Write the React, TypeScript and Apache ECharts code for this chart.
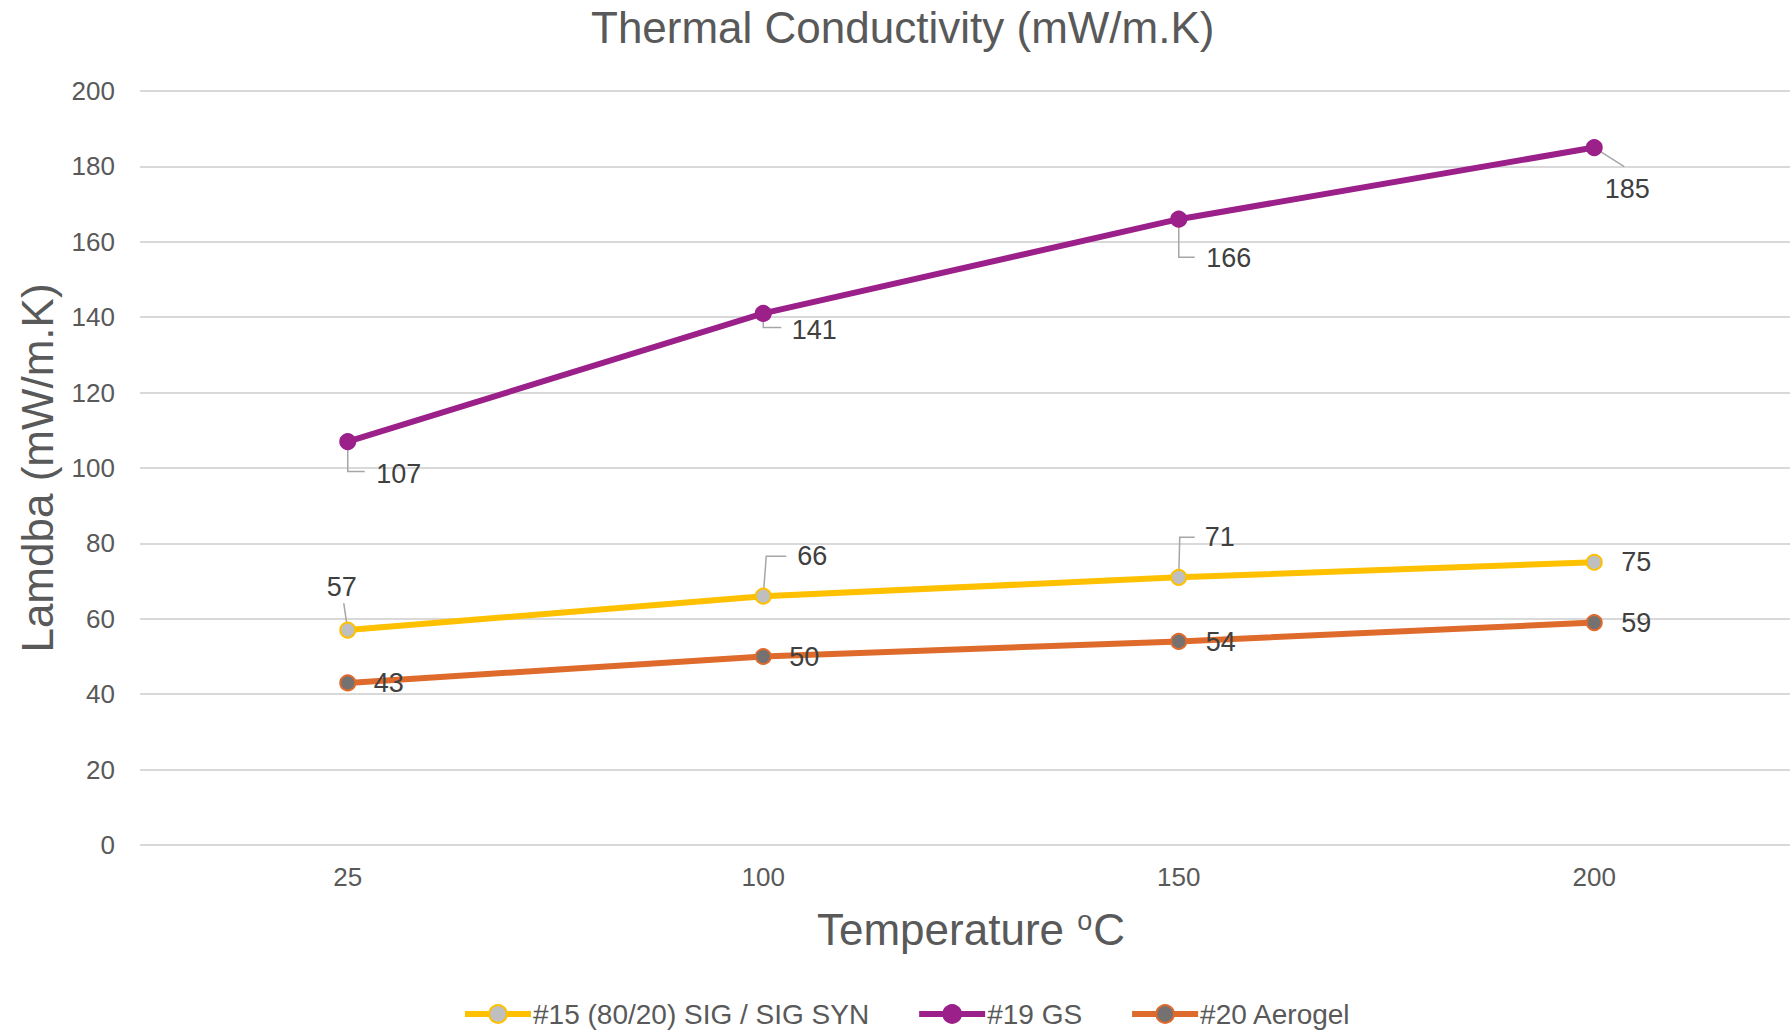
import React, { useEffect, useRef } from "react";
import * as echarts from "echarts";

// ---- data ----
const categories = ["25", "100", "150", "200"];
const sigValues = [57, 66, 71, 75];
const gsValues = [107, 141, 166, 185];
const aerogelValues = [43, 50, 54, 59];
const seriesNames = ["#15 (80/20) SIG / SIG SYN", "#19 GS", "#20 Aerogel"];
const yMin = 0;
const yMax = 200;
const yInterval = 20;

// ---- label placement (styling, px offsets from the point) ----
const sigLabelOffsets = [[-6, -43], [49, -40], [41, -40], [42, 0]];
const gsLabelOffsets = [[51, 32], [51, 17], [50, 39], [33, 41]];
const aeroLabelOffsets = [[41, 0], [41, 0], [42, 1], [42, 0]];

const sigLeaders: (number[][] | null)[] = [
  [[0, 0], [-4, -27]],
  [[0, 0], [3, -40], [23, -40]],
  [[0, 0], [1, -40], [16, -40]],
  null,
];
const gsLeaders: (number[][] | null)[] = [
  [[0, 0], [0, 30], [17, 30]],
  [[0, 0], [0, 14], [18, 14]],
  [[0, 0], [0, 38], [16, 38]],
  [[0, 0], [30, 19]],
];

const FONT = "Liberation Sans, Arial, sans-serif";
const TEXT = "#595959";
const LABEL = "#404040";
const YELLOW = "#FFC000";
const PURPLE = "#9B208A";
const ORANGE = "#DE6A2C";

function lineSeries(name: string, values: number[], offsets: number[][], color: string, markerFill: string) {
  return {
    name,
    type: "line",
    z: 3,
    data: values.map((v, i) => ({
      value: v,
      label: { offset: offsets[i] },
    })),
    symbol: "circle",
    symbolSize: 15,
    lineStyle: { color, width: 6 },
    itemStyle: { color: markerFill, borderColor: color, borderWidth: 2 },
    label: {
      show: true,
      position: "inside",
      fontSize: 27,
      color: LABEL,
      fontFamily: FONT,
    },
  };
}

function leaderSeries(values: number[], leaders: (number[][] | null)[]) {
  return {
    type: "custom",
    z: 1,
    silent: true,
    data: values.map((v, i) => [i, v]),
    encode: { x: 0, y: 1 },
    renderItem: (params: any, api: any) => {
      const leader = leaders[params.dataIndex];
      if (!leader) return { type: "group", children: [] };
      const p = api.coord([api.value(0), api.value(1)]);
      return {
        type: "polyline",
        shape: { points: leader.map(([dx, dy]) => [p[0] + dx, p[1] + dy]) },
        style: { stroke: "#A6A6A6", lineWidth: 1.5, fill: null },
      };
    },
  };
}

export default function App() {
  const ref = useRef<HTMLDivElement>(null);
  useEffect(() => {
    if (!ref.current) return;
    const chart = echarts.init(ref.current, null, { renderer: "svg" });
    chart.setOption({
      animation: false,
      backgroundColor: "#ffffff",
      title: {
        text: "Thermal Conductivity (mW/m.K)",
        left: 591,
        top: 5,
        padding: 0,
        textStyle: { fontSize: 44, fontWeight: "normal", color: TEXT, fontFamily: FONT, lineHeight: 44 },
      },
      legend: {
        data: seriesNames,
        left: 462,
        top: 1000,
        padding: 0,
        itemWidth: 66,
        itemHeight: 22,
        itemGap: 47,
        lineStyle: { width: 6 },
        textStyle: { fontSize: 28, color: TEXT, fontFamily: FONT, padding: [0, 0, 0, -3] },
      },
      grid: { left: 140, top: 91, width: 1662, height: 754, containLabel: false },
      xAxis: {
        type: "category",
        data: categories,
        boundaryGap: true,
        axisLine: { show: false },
        axisTick: { show: false },
        axisLabel: { fontSize: 26, color: TEXT, margin: 19, fontFamily: FONT },
        name: "Temperature {s|o}C",
        nameLocation: "middle",
        nameGap: 62,
        nameTextStyle: {
          fontSize: 44,
          color: TEXT,
          fontFamily: FONT,
          rich: { s: { fontSize: 27, color: TEXT, fontFamily: FONT, verticalAlign: "top", padding: [0, 1, 14, 1] } },
        },
      },
      yAxis: {
        type: "value",
        min: yMin,
        max: yMax,
        interval: yInterval,
        axisLine: { show: false },
        axisTick: { show: false },
        splitLine: { lineStyle: { color: "#D9D9D9", width: 2 } },
        axisLabel: { fontSize: 26, color: TEXT, margin: 25, fontFamily: FONT },
        name: "Lamdba (mW/m.K)",
        nameLocation: "middle",
        nameGap: 81,
        nameTextStyle: { fontSize: 44, color: TEXT, fontFamily: FONT },
      },
      series: [
        lineSeries(seriesNames[0], sigValues, sigLabelOffsets, YELLOW, "#BFBFBF"),
        lineSeries(seriesNames[1], gsValues, gsLabelOffsets, PURPLE, PURPLE),
        lineSeries(seriesNames[2], aerogelValues, aeroLabelOffsets, ORANGE, "#767171"),
        leaderSeries(sigValues, sigLeaders),
        leaderSeries(gsValues, gsLeaders),
      ],
    });
    return () => chart.dispose();
  }, []);
  return (
    <div
      ref={ref}
      style={{ position: "fixed", left: 0, top: 0, width: 1810, height: 1035, background: "#fff" }}
    />
  );
}
